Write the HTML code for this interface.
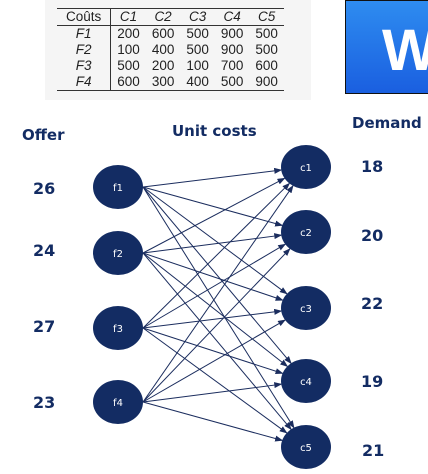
<!DOCTYPE html>
<html><head><meta charset="utf-8"><style>
body{margin:0;width:428px;height:474px;background:#fff;overflow:hidden;position:relative;font-family:"Liberation Sans",sans-serif}
.tbl{position:absolute;left:45px;top:0;width:266px;height:100px;background:#f5f5f5}
table{position:absolute;left:12px;top:8px;border-collapse:collapse;font-size:13.5px;color:#222}
td{padding:0 6px;height:16px;line-height:16px;text-align:center}
.hd td{border-bottom:1.2px solid #333}
tr.last td{border-bottom:1.5px solid #333}
td.l{border-right:1.2px solid #333;font-style:italic;padding:0 9px}
.i{font-style:italic}
.box{position:absolute;left:345px;top:0;width:83px;height:94px;background:linear-gradient(#2e8cf0,#1a5fe0);border:1.5px solid #111;border-right:none;box-sizing:border-box}
.box span{position:absolute;left:36px;top:16px;color:#fff;font:bold 58px "Liberation Sans",sans-serif}
</style></head><body>
<div class="tbl"><table>
<tr class="hd" style="border-top:1.5px solid #333"><td class="l" style="font-style:normal">Coûts</td><td class="i">C1</td><td class="i">C2</td><td class="i">C3</td><td class="i">C4</td><td class="i">C5</td></tr>
<tr><td class="l">F1</td><td>200</td><td>600</td><td>500</td><td>900</td><td>500</td></tr>
<tr><td class="l">F2</td><td>100</td><td>400</td><td>500</td><td>900</td><td>500</td></tr>
<tr><td class="l">F3</td><td>500</td><td>200</td><td>100</td><td>700</td><td>600</td></tr>
<tr class="last"><td class="l">F4</td><td>600</td><td>300</td><td>400</td><td>500</td><td>900</td></tr>
</table></div>
<div class="box"><span>W</span></div>
<svg width="428" height="474" style="position:absolute;left:0;top:0" font-family="DejaVu Sans, Liberation Sans, sans-serif">
<defs><marker id="a" markerWidth="8" markerHeight="6" refX="7" refY="3" orient="auto" markerUnits="userSpaceOnUse"><path d="M0,0 L8,3 L0,6 z" fill="#1b2d5e"/></marker></defs>
<g id="lines" stroke="#1b2d5e" stroke-width="1" fill="none"></g>
<g fill="#132c63">
<ellipse cx="118" cy="187" rx="25" ry="22"/><ellipse cx="118" cy="253" rx="25" ry="22"/>
<ellipse cx="118" cy="328" rx="25" ry="22"/><ellipse cx="118" cy="402" rx="25" ry="22"/>
<ellipse cx="306" cy="167" rx="25" ry="22"/><ellipse cx="306" cy="232" rx="25" ry="22"/>
<ellipse cx="306" cy="308" rx="25" ry="22"/><ellipse cx="306" cy="381" rx="25" ry="22"/>
<ellipse cx="306" cy="447" rx="25" ry="22"/>
</g>
<g fill="#fff" font-size="10" text-anchor="middle">
<text x="118" y="191">f1</text><text x="118" y="257">f2</text><text x="118" y="332">f3</text><text x="118" y="406">f4</text>
<text x="306" y="171">c1</text><text x="306" y="236">c2</text><text x="306" y="312">c3</text><text x="306" y="385">c4</text><text x="306" y="451">c5</text>
</g>
<g fill="#132c63" font-size="15" font-weight="bold">
<text x="22" y="140">Offer</text><text x="172" y="136">Unit costs</text><text x="352" y="128">Demand</text>
<text x="33" y="194" font-size="16">26</text><text x="33" y="256" font-size="16">24</text><text x="33" y="332" font-size="16">27</text><text x="33" y="408" font-size="16">23</text>
<text x="361" y="172" font-size="16">18</text><text x="361" y="241" font-size="16">20</text><text x="361" y="309" font-size="16">22</text><text x="361" y="387" font-size="16">19</text><text x="362" y="456" font-size="16">21</text>
</g>
</svg>
<script>
var F=[187,253,328,402],C=[167,232,308,381,447],g=document.getElementById('lines'),s='';
F.forEach(function(fy){C.forEach(function(cy){var x0=143,dx=306-x0,dy=cy-fy,t=1/Math.sqrt(Math.pow(dx/25,2)+Math.pow(dy/22,2));
s+='<line x1="'+x0+'" y1="'+fy+'" x2="'+(306-dx*t)+'" y2="'+(cy-dy*t)+'" marker-end="url(#a)"/>';});});
g.innerHTML=s;
</script>
</body></html>
